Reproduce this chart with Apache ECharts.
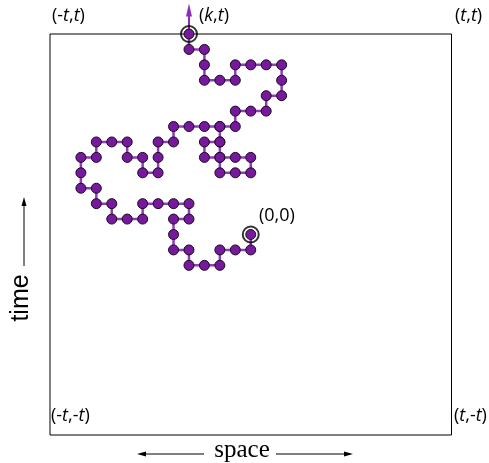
<!DOCTYPE html>
<html>
<head>
<meta charset="utf-8">
<script src="https://cdn.jsdelivr.net/npm/echarts@6/dist/echarts.min.js"></script>
<style>
html,body{margin:0;padding:0;background:#fff;}
#chart{width:489px;height:463px;}
</style>
</head>
<body>
<div id="chart"></div>
<script>
// Walk on the lattice from (0,0) to (k,t): space (x) and time (y) coordinates
const walkX = [0,0,-1,-2,-2,-3,-4,-4,-5,-5,-5,-4,-4,-5,-6,-7,-7,-8,-9,-9,-10,-10,-11,-11,-11,-10,-10,-9,-8,-8,-7,-7,-6,-6,-6,-5,-5,-4,-3,-2,-2,-3,-3,-2,-1,0,0,-1,-2,-2,-2,-2,-1,-1,0,1,1,2,2,2,1,0,-1,-1,-2,-3,-3,-3,-4,-4];
const walkY = [0,-1,-1,-1,-2,-2,-2,-1,-1,0,1,1,2,2,2,2,1,1,1,2,2,3,3,4,5,5,6,6,6,5,5,4,4,5,6,6,7,7,7,7,6,6,5,5,5,5,4,4,4,5,6,7,7,8,8,8,9,9,10,11,11,11,11,10,10,10,11,12,12,13];
// Marked points: origin and end point (k,t)
const markedX = [0,-4];
const markedY = [0,13];
// Box extent: -t .. t
const tMax = 13;
// Outgoing arrow from (k,t)
const arrowX = [-4,-4];
const arrowY = [13,14.55];

const walkData = walkX.map((x,i)=>[x, walkY[i]]);
const markedData = markedX.map((x,i)=>[x, markedY[i]]);
const arrowData = arrowX.map((x,i)=>[x, arrowY[i]]);

const chart = echarts.init(document.getElementById('chart'), null, {renderer:'canvas'});
const labelFont = '"Open Sans", sans-serif';
const FS = 18;
const rich = { i: { fontStyle:'italic', fontFamily: labelFont, fontSize: FS, fill:'#000' } };
function lbl(txt, x, y, align){
  return { type:'text', x:x, y:y, z:10,
    style:{ text:txt, rich:rich, fontFamily:labelFont, fontSize:FS, fill:'#000',
      textAlign: align||'left', textVerticalAlign:'middle' } };
}
chart.setOption({
  animation:false,
  grid:{ left:50, top:34, width:401.5, height:401, show:true, borderColor:'#000', borderWidth:1, backgroundColor:'transparent' },
  xAxis:{ type:'value', min:-tMax, max:tMax, show:false },
  yAxis:{ type:'value', min:-tMax, max:tMax, show:false },
  series:[
    { type:'line', data:arrowData, clip:false,
      symbol:function(v, p){ return p.dataIndex === 1 ? 'triangle' : 'none'; },
      symbolSize:[6,13], showAllSymbol:true,
      lineStyle:{ color:'#8a2fb3', width:2 },
      itemStyle:{ color:'#8a2fb3' },
      emphasis:{ disabled:true }, z:2 },
    { type:'line', data:walkData, clip:false, symbol:'circle', symbolSize:10,
      showAllSymbol:true,
      lineStyle:{ color:'#8f3fb5', width:2.5 },
      itemStyle:{ color:'#76199c', borderColor:'#1a0a20', borderWidth:1 },
      emphasis:{ disabled:true }, z:3 },
    { type:'scatter', data:markedData, clip:false, symbol:'circle', symbolSize:16,
      itemStyle:{ color:'rgba(0,0,0,0)', borderColor:'#000', borderWidth:2 },
      emphasis:{ disabled:true }, z:4 }
  ],
  graphic:[
    lbl('(-{i|t},{i|t})', 52, 16),
    lbl('({i|k},{i|t})', 199, 16),
    lbl('({i|t},{i|t})', 455, 16),
    lbl('(0,0)', 259, 216),
    lbl('(-{i|t},-{i|t})', 51, 416),
    lbl('({i|t},-{i|t})', 454, 416),
    { type:'text', x:242, y:450, style:{ text:'space', fontFamily:'"Liberation Serif", serif', fontSize:25, fill:'#000', textAlign:'center', textVerticalAlign:'middle' } },
    { type:'line', shape:{ x1:140, y1:454, x2:204, y2:454 }, style:{ stroke:'#000', lineWidth:1 } },
    { type:'polygon', shape:{ points:[[137,454],[146,451.5],[146,456.5]] }, style:{ fill:'#000' } },
    { type:'line', shape:{ x1:276, y1:454, x2:350, y2:454 }, style:{ stroke:'#000', lineWidth:1 } },
    { type:'polygon', shape:{ points:[[353,454],[344,451.5],[344,456.5]] }, style:{ fill:'#000' } },
    { type:'text', x:21, y:298, rotation:Math.PI/2, style:{ text:'time', fontFamily:'"Liberation Sans", Arial, sans-serif', fontSize:25, fill:'#000', textAlign:'center', textVerticalAlign:'middle' } },
    { type:'line', shape:{ x1:24, y1:201, x2:24, y2:266 }, style:{ stroke:'#000', lineWidth:1 } },
    { type:'polygon', shape:{ points:[[24,197],[21.5,206],[26.5,206]] }, style:{ fill:'#000' } }
  ]
});
</script>
</body>
</html>
